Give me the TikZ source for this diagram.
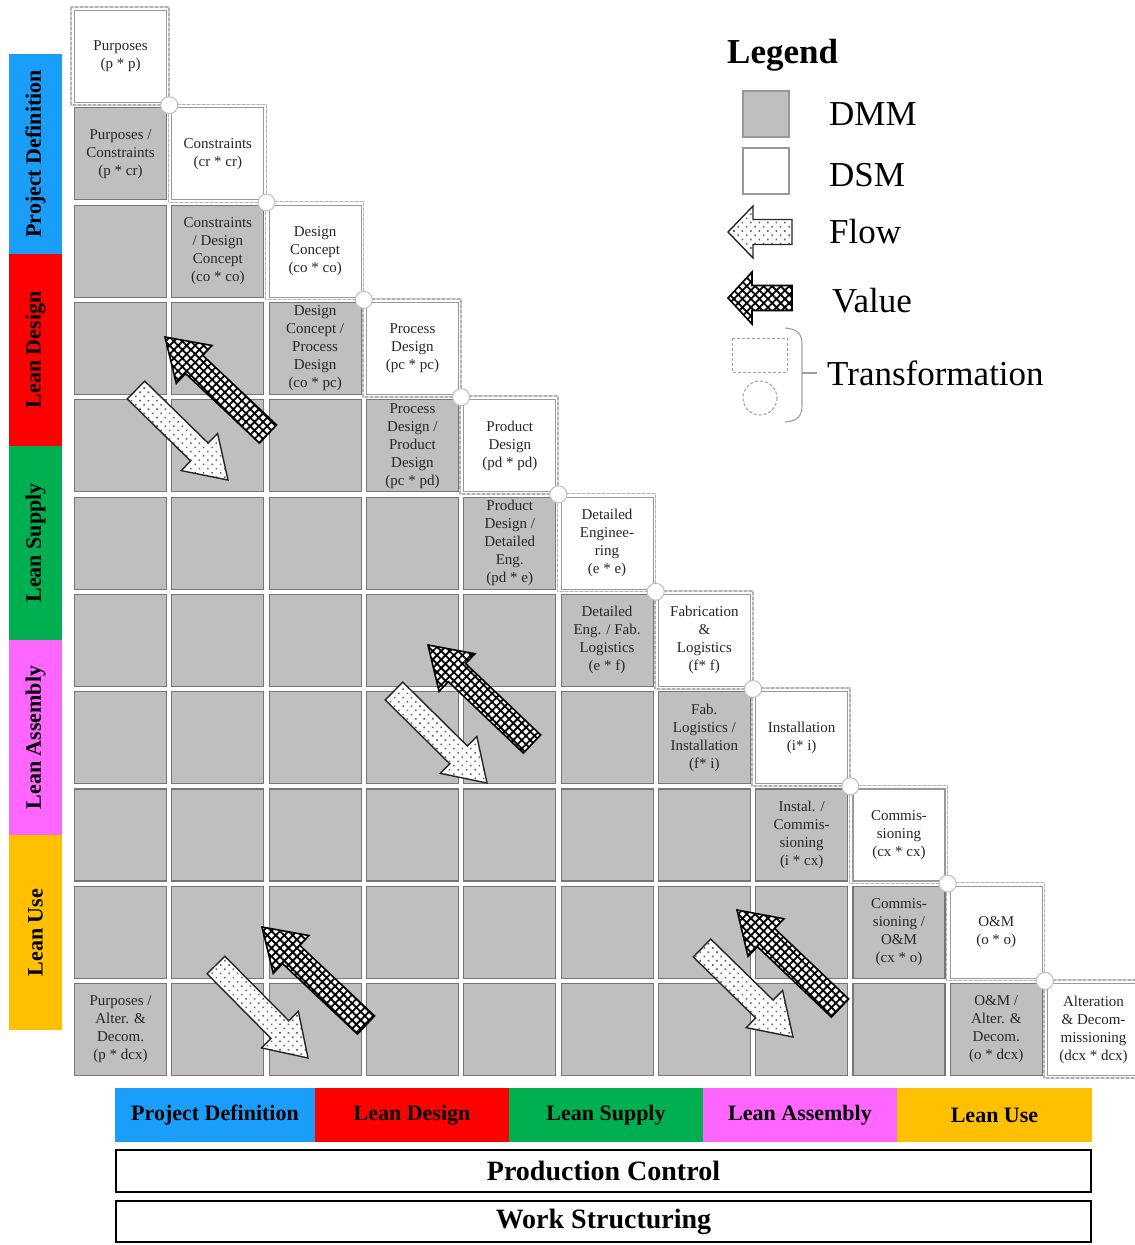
\documentclass[tikz,border=0pt]{standalone}
\usepackage{fontspec}
\setmainfont{Liberation Serif}
\usetikzlibrary{calc,patterns.meta}

\definecolor{pdblue}{RGB}{25,158,250}
\definecolor{ldred}{RGB}{255,0,0}
\definecolor{lsgreen}{RGB}{0,176,80}
\definecolor{lamag}{RGB}{255,102,255}
\definecolor{luorange}{RGB}{255,192,0}
\definecolor{dmmfill}{RGB}{191,191,191}
\definecolor{cellline}{RGB}{118,118,118}
\definecolor{celltext}{RGB}{38,38,38}

% block arrow from tail #1 to tip #2, head length #3, style #4
\newcommand\blockarrow[4]{%
  \coordinate (ba-t) at (#1);
  \coordinate (ba-h) at (#2);
  \coordinate (ba-b) at ($(ba-h)!#3!(ba-t)$);
  \draw[#4]
    ($(ba-t)!12.5pt!90:(ba-h)$) -- ($(ba-b)!12.5pt!90:(ba-h)$) --
    ($(ba-b)!26pt!90:(ba-h)$) -- (ba-h) --
    ($(ba-b)!26pt!-90:(ba-h)$) -- ($(ba-b)!12.5pt!-90:(ba-h)$) --
    ($(ba-t)!12.5pt!-90:(ba-h)$) -- cycle;
}
% text inside a matrix cell
\newcommand\celltext[3]{\node[celltxt] (t-#1-#2) at (cell-#1-#2.center) {#3};}

\begin{document}
\begin{tikzpicture}[x=1pt,y=-1pt,
  dmm/.style={draw=cellline, line width=1.1pt, fill=dmmfill,
    minimum width=92pt, minimum height=92pt, inner sep=0pt, anchor=north west},
  dsm/.style={dmm, fill=white, draw=black!40},
  celltxt/.style={align=center, text=celltext, inner sep=0pt,
    font=\fontsize{15}{18}\selectfont},
  transbox/.style={draw=gray!60, line width=1.5pt, dash pattern=on 3pt off 2pt},
  transunder/.style={draw=gray!30, line width=1.5pt},
  junction/.style={circle, draw=gray!50, fill=white, line width=1pt,
    minimum size=17pt, inner sep=0pt},
  phasebar/.style={inner sep=0pt, font=\fontsize{22}{26}\selectfont\bfseries},
  ctrlbox/.style={draw=black, line width=2.6pt, fill=white, inner sep=0pt,
    font=\fontsize{28}{32}\selectfont\bfseries},
  legtxt/.style={inner sep=0pt, font=\fontsize{35}{40}\selectfont},
  legsq/.style={draw=gray!80, line width=1.2pt, minimum size=46pt, inner sep=0pt},
  flowarrow/.style={draw=black!85, line width=1.4pt, preaction={fill=white},
    pattern={Dots[distance=6pt, radius=1.1pt, angle=45]}, pattern color=black!60},
  valuearrow/.style={draw=black, line width=1.6pt, preaction={fill=white},
    pattern={Hatch[distance=6pt, angle=45, line width=1.8pt]}, pattern color=black}
]
\useasboundingbox (0,0) rectangle (1135,1245);

% ---------- matrix cells ----------
\foreach \r in {0,...,10}{
  \foreach \c in {0,...,\r}{
    \pgfmathsetmacro\xx{74+97.3*\c}
    \pgfmathsetmacro\yy{10+97.3*\r}
    \ifnum\c=\r
      \draw[transunder] (\xx-3,\yy-3) rectangle (\xx+95,\yy+95);
      \draw[transbox] (\xx-3,\yy-3) rectangle (\xx+95,\yy+95);
      \node[dsm] (cell-\r-\c) at (\xx,\yy) {};
    \else
      \node[dmm] (cell-\r-\c) at (\xx,\yy) {};
    \fi
  }
}
% junctions between consecutive transformations
\foreach \k [count=\n from 1] in {0,...,9}{
  \node[junction] (jn-\k) at ($(cell-\k-\k.south east)!0.5!(cell-\n-\n.north west)$) {};
}

% ---------- DSM texts ----------
\celltext{0}{0}{Purposes\\(p * p)}
\celltext{1}{1}{Constraints\\(cr * cr)}
\celltext{2}{2}{Design\\Concept\\(co * co)}
\celltext{3}{3}{Process\\Design\\(pc * pc)}
\celltext{4}{4}{Product\\Design\\(pd * pd)}
\celltext{5}{5}{Detailed\\Enginee-\\ring\\(e * e)}
\celltext{6}{6}{Fabrication\\\&\\Logistics\\(f* f)}
\celltext{7}{7}{Installation\\(i* i)}
\celltext{8}{8}{Commis-\\sioning\\(cx * cx)}
\celltext{9}{9}{O\&M\\(o * o)}
\celltext{10}{10}{Alteration\\\& Decom-\\missioning\\(dcx * dcx)}

% ---------- DMM texts ----------
\celltext{1}{0}{Purposes /\\Constraints\\(p * cr)}
\celltext{2}{1}{Constraints\\/ Design\\Concept\\(co * co)}
\celltext{3}{2}{Design\\Concept /\\Process\\Design\\(co * pc)}
\celltext{4}{3}{Process\\Design /\\Product\\Design\\(pc * pd)}
\celltext{5}{4}{Product\\Design /\\Detailed\\Eng.\\(pd * e)}
\celltext{6}{5}{Detailed\\Eng. / Fab.\\Logistics\\(e * f)}
\celltext{7}{6}{Fab.\\Logistics /\\Installation\\(f* i)}
\celltext{8}{7}{Instal. /\\Commis-\\sioning\\(i * cx)}
\celltext{9}{8}{Commis-\\sioning /\\O\&M\\(cx * o)}
\celltext{10}{9}{O\&M /\\Alter. \&\\Decom.\\(o * dcx)}
\celltext{10}{0}{Purposes /\\Alter. \&\\Decom.\\(p * dcx)}

% ---------- flow / value arrows ----------
\blockarrow{136,390}{228,480}{40pt}{flowarrow}
\blockarrow{268,434}{165,337}{40pt}{valuearrow}
\blockarrow{394,691}{487,783}{40pt}{flowarrow}
\blockarrow{532,744}{428,645}{40pt}{valuearrow}
\blockarrow{216,965}{308,1058}{40pt}{flowarrow}
\blockarrow{366,1025}{262,927}{40pt}{valuearrow}
\blockarrow{702,948}{793,1037}{40pt}{flowarrow}
\blockarrow{840,1008}{737,910}{40pt}{valuearrow}

% ---------- vertical phase bars ----------
\node[phasebar, fill=pdblue,   rotate=90, minimum width=200pt, minimum height=53pt] (vb-pd) at (35.5,154) {Project Definition};
\node[phasebar, fill=ldred,    rotate=90, minimum width=192pt, minimum height=53pt] (vb-ld) at (35.5,350) {Lean Design};
\node[phasebar, fill=lsgreen,  rotate=90, minimum width=194pt, minimum height=53pt] (vb-ls) at (35.5,543) {Lean Supply};
\node[phasebar, fill=lamag,    rotate=90, minimum width=195pt, minimum height=53pt] (vb-la) at (35.5,737.5) {Lean Assembly};
\node[phasebar, fill=luorange, rotate=90, minimum width=195pt, minimum height=53pt] (vb-lu) at (35.5,932.5) {Lean Use};

% ---------- horizontal phase bar ----------
\node[phasebar, fill=pdblue,   minimum width=200pt, minimum height=54pt] (hb-pd) at (215,1115) {Project Definition};
\node[phasebar, fill=ldred,    minimum width=194pt, minimum height=54pt] (hb-ld) at (412,1115) {Lean Design};
\node[phasebar, fill=lsgreen,  minimum width=194pt, minimum height=54pt] (hb-ls) at (606,1115) {Lean Supply};
\node[phasebar, fill=lamag,    minimum width=194pt, minimum height=54pt] (hb-la) at (800,1115) {Lean Assembly};
\node[phasebar, fill=luorange, minimum width=195pt, minimum height=54pt] (hb-lu) at (994.5,1115) {Lean Use};

\node[ctrlbox, minimum width=975pt, minimum height=42pt] (pc) at (603.5,1171) {Production Control};
\node[ctrlbox, minimum width=975pt, minimum height=41pt] (ws) at (603.5,1221.5) {Work Structuring};

% ---------- legend ----------
\node[legtxt, anchor=base west, font=\fontsize{35}{40}\selectfont\bfseries] (leg-title) at (727,63) {Legend};
\node[legsq, fill=dmmfill] (leg-dmm) at (766,114) {};
\node[legsq, fill=white] (leg-dsm) at (766,171) {};
\node[legtxt, anchor=base west] (leg-dmm-t) at (829,125) {DMM};
\node[legtxt, anchor=base west] (leg-dsm-t) at (829,186) {DSM};
\blockarrow{792,232}{728,232}{25pt}{flowarrow}
\node[legtxt, anchor=base west] (leg-flow-t) at (829,243) {Flow};
\blockarrow{792,298}{728,298}{24pt}{valuearrow}
\node[legtxt, anchor=base west] (leg-value-t) at (832,312) {Value};
\draw[gray!75, line width=1pt, dash pattern=on 3pt off 2pt] (732,338) rectangle (787,372);
\draw[gray!75, line width=1pt, dash pattern=on 3pt off 2pt] (760,398) circle (17);
\draw[gray!75, line width=1.1pt] (785,328) .. controls (798,329) and (802,334) .. (802,345)
  -- (802,405) .. controls (802,416) and (798,421) .. (785,422);
\coordinate (brace-tip) at (802,373);
\coordinate (brace-end) at (817,373);
\draw[gray!75, line width=1.1pt] (brace-tip) -- (brace-end);
\node[legtxt, anchor=base west] (leg-trans-t) at (827,385) {Transformation};
\end{tikzpicture}
\end{document}
